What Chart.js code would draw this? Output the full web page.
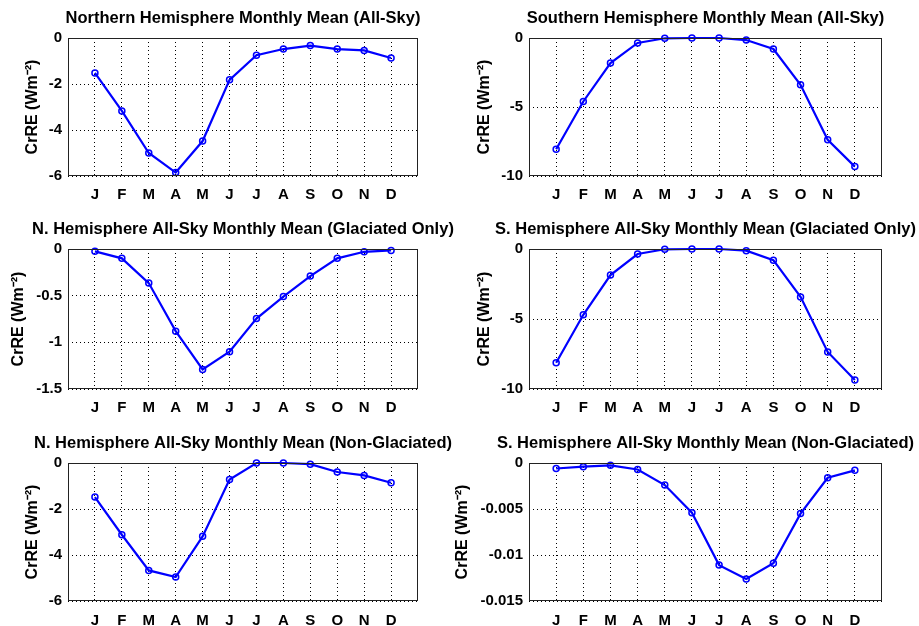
<!DOCTYPE html>
<html>
<head>
<meta charset="utf-8">
<script src="https://cdn.jsdelivr.net/npm/chart.js@4"></script>
<style>
  html, body { margin: 0; padding: 0; background: #fff; overflow: hidden; }
  body { width: 919px; height: 626px; position: relative; }
  canvas { position: absolute; }
</style>
</head>
<body>
<canvas id="p1"></canvas>
<canvas id="p2"></canvas>
<canvas id="p3"></canvas>
<canvas id="p4"></canvas>
<canvas id="p5"></canvas>
<canvas id="p6"></canvas>
<script>
const months = ['J', 'F', 'M', 'A', 'M', 'J', 'J', 'A', 'S', 'O', 'N', 'D'];
const monthIndex = [1, 2, 3, 4, 5, 6, 7, 8, 9, 10, 11, 12];

// CrRE values (W m^-2)
const nhAllSky = [-1.52, -3.17, -5.0, -5.85, -4.48, -1.82, -0.75, -0.48, -0.33, -0.48, -0.54, -0.87];
const shAllSky = [-8.06, -4.6, -1.82, -0.36, -0.02, 0, 0, -0.15, -0.8, -3.39, -7.38, -9.32];
const nhGlaciated = [-0.025, -0.1, -0.365, -0.88, -1.29, -1.1, -0.745, -0.51, -0.29, -0.1, -0.03, -0.015];
const shGlaciated = [-8.12, -4.7, -1.86, -0.36, -0.02, 0, 0, -0.12, -0.8, -3.42, -7.35, -9.35];
const nhNonGlaciated = [-1.48, -3.12, -4.67, -4.96, -3.19, -0.72, 0, 0, -0.05, -0.39, -0.54, -0.86];
const shNonGlaciated = [-0.0006, -0.0004, -0.00025, -0.0007, -0.0024, -0.0054, -0.0111, -0.0126, -0.0109, -0.0055, -0.0016, -0.0008];

// y tick labels per panel
const ticksSix = [0, -2, -4, -6];
const ticksTen = [0, -5, -10];
const ticksOneHalf = [0, -0.5, -1, -1.5];
const ticksSmall = [0, -0.005, -0.01, -0.015];

const titles = [
  'Northern Hemisphere Monthly Mean (All-Sky)',
  'Southern Hemisphere Monthly Mean (All-Sky)',
  'N. Hemisphere All-Sky Monthly Mean (Glaciated Only)',
  'S. Hemisphere All-Sky Monthly Mean (Glaciated Only)',
  'N. Hemisphere All-Sky Monthly Mean (Non-Glaciated)',
  'S. Hemisphere All-Sky Monthly Mean (Non-Glaciated)'
];
const yLabel = 'CrRE (Wm\u207B\u00B2)';

const FONT = '"Liberation Sans", Arial, Helvetica, sans-serif';

// draws the full box round the plot area, on top of the line (like Matlab)
const boxPlugin = {
  id: 'box',
  afterDatasetsDraw(chart) {
    const a = chart.chartArea, c = chart.ctx;
    c.save();
    c.strokeStyle = '#222';
    c.lineWidth = 1;
    c.strokeRect(Math.round(a.left) + 0.5, Math.round(a.top) + 0.5,
      Math.round(a.right - a.left) - 1, Math.round(a.bottom - a.top) - 1);
    c.restore();
  }
};

function panel(id, cfg) {
  const el = document.getElementById(id);
  el.style.left = cfg.left + 'px';
  el.style.top = cfg.top + 'px';
  el.width = cfg.width;
  el.height = cfg.height;
  el.style.width = cfg.width + 'px';
  el.style.height = cfg.height + 'px';

  const points = monthIndex.map((m, i) => ({ x: m, y: cfg.values[i] }));

  new Chart(el, {
    type: 'line',
    data: {
      datasets: [{
        data: points,
        borderColor: '#0000ff',
        borderWidth: 2.2,
        pointStyle: 'circle',
        pointRadius: 3,
        pointBorderWidth: 1.5,
        pointBorderColor: '#0000ff',
        pointBackgroundColor: 'rgba(0,0,0,0)',
        tension: 0,
        clip: false
      }]
    },
    options: {
      responsive: false,
      animation: false,
      layout: { padding: 0 },
      plugins: {
        legend: { display: false },
        tooltip: { enabled: false },
        title: {
          display: true,
          text: cfg.title,
          fullSize: true,
          color: '#000',
          font: { family: FONT, size: 16.5, weight: 'bold' },
          padding: { top: 8.5, bottom: 9.7 }
        }
      },
      scales: {
        x: {
          type: 'linear',
          min: 0,
          max: 13,
          afterBuildTicks: s => { s.ticks = monthIndex.map(v => ({ value: v })); },
          afterFit: s => { s.height = cfg.xAxisHeight; },
          ticks: {
            autoSkip: false,
            maxRotation: 0,
            padding: cfg.xTickPad,
            color: '#000',
            font: { family: FONT, size: 15, weight: 'bold' },
            callback: v => months[v - 1] || ''
          },
          grid: { color: '#000', lineWidth: 1, drawTicks: false },
          border: { display: false, dash: [1, 3] }
        },
        y: {
          type: 'linear',
          min: Math.min(...cfg.yTicks),
          max: Math.max(...cfg.yTicks),
          afterBuildTicks: s => { s.ticks = cfg.yTicks.map(v => ({ value: v })); },
          afterFit: s => { s.width = cfg.yAxisWidth; },
          ticks: {
            padding: 6,
            color: '#000',
            font: { family: FONT, size: 15, weight: 'bold' },
            callback: v => String(v)
          },
          grid: { color: '#000', lineWidth: 1, drawTicks: false },
          border: { display: false, dash: [1, 3] },
          title: {
            display: true,
            text: yLabel,
            color: '#000',
            font: { family: FONT, size: 16, weight: 'bold' },
            padding: { top: cfg.yTitlePad, bottom: 0 }
          }
        },
        // empty right-hand axis: balances the left one so the title centres over the plot
        yRight: {
          type: 'linear',
          position: 'right',
          afterFit: s => { s.width = cfg.yAxisWidth; },
          ticks: { display: false },
          grid: { display: false },
          border: { display: false }
        }
      }
    },
    plugins: [boxPlugin]
  });
}

const rows = [
  { top: 0, height: 206, xAxisHeight: 30, xTickPad: 10 },
  { top: 211, height: 208, xAxisHeight: 30, xTickPad: 10 },
  { top: 425, height: 201, xAxisHeight: 25, xTickPad: 11 }
];
const cols = [
  { left: 0, width: 486, yAxisWidth: 68 },
  { left: 440, width: 531, yAxisWidth: 89 }
];

const panelValues = [nhAllSky, shAllSky, nhGlaciated, shGlaciated, nhNonGlaciated, shNonGlaciated];
const panelTicks = [ticksSix, ticksTen, ticksOneHalf, ticksTen, ticksSix, ticksSmall];
const panelYTitlePad = [23.4, 35.4, 8.7, 35.4, 23.4, 13.4];

panelValues.forEach((vals, i) => {
  const r = rows[Math.floor(i / 2)], c = cols[i % 2];
  panel('p' + (i + 1), {
    left: c.left, width: c.width, yAxisWidth: c.yAxisWidth,
    top: r.top, height: r.height, xAxisHeight: r.xAxisHeight, xTickPad: r.xTickPad,
    title: titles[i], values: vals, yTicks: panelTicks[i], yTitlePad: panelYTitlePad[i]
  });
});
</script>
</body>
</html>
